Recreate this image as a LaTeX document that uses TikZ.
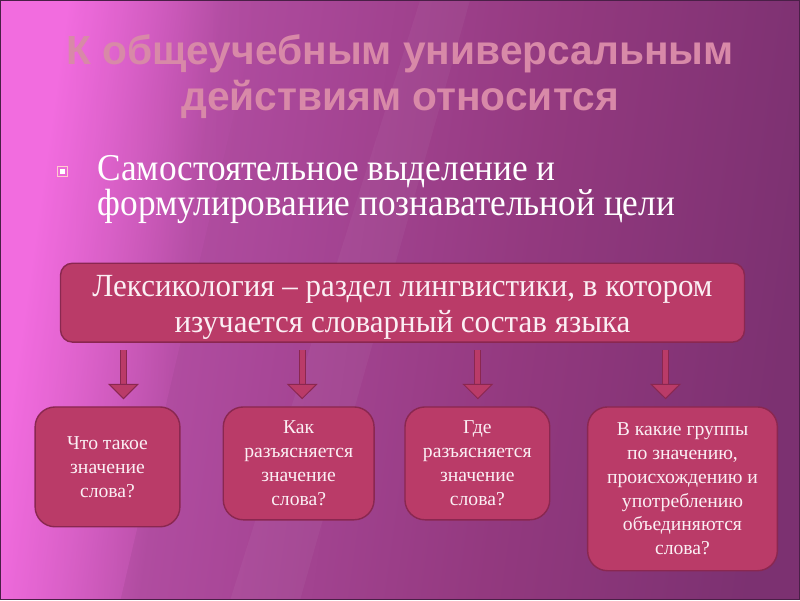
\documentclass[tikz,border=0pt]{standalone}
\usepackage{fontspec}
\setmainfont{Liberation Serif}
\setsansfont{Liberation Sans}
\newfontfamily\goalfont{Liberation Serif}[FakeStretch=0.93]
\newfontfamily\lexfont{Liberation Serif}[FakeStretch=0.96]
\usetikzlibrary{arrows.meta,fadings}

\definecolor{bgpink}{HTML}{F26CDF}
\definecolor{bgmid}{HTML}{B04CA0}
\definecolor{bgdeep}{HTML}{93397F}
\definecolor{bgdark}{HTML}{7C3171}
\definecolor{titlepink}{HTML}{D889A8}
\definecolor{boxfill}{HTML}{BA3B68}
\definecolor{boxedge}{HTML}{8A2750}
\definecolor{boxtext}{HTML}{FBEFF4}
\definecolor{frame}{HTML}{4A1F47}

\pgfdeclarehorizontalshading{slidebg}{100bp}{color(0bp)=(bgpink); color(26bp)=(bgpink); color(36bp)=(bgmid); color(58bp)=(bgdeep); color(75bp)=(bgdark); color(100bp)=(bgdark)}

\begin{document}
\begin{tikzpicture}[x=0.025cm,y=-0.025cm,
    title/.style={text=titlepink,align=center,font=\sffamily\bfseries\fontsize{29}{33}\selectfont},
    goaltext/.style={text=white,align=left,inner sep=0pt,font=\goalfont\fontsize{27}{25}\selectfont},
    lexbox/.style={draw=boxedge,line width=1pt,fill=boxfill,rounded corners=0.3cm,text=boxtext,inner ysep=0pt,
        align=center,font=\lexfont\fontsize{23}{25.5}\selectfont,minimum width=17.125cm,minimum height=1.975cm},
    qbox/.style={draw=boxedge,line width=1pt,fill=boxfill,rounded corners=0.5cm,text=boxtext,
        align=center,font=\fontsize{14}{17}\selectfont},
    blockarrow/.style={draw=boxedge,line width=0.7pt,double=boxfill,double distance=3.4pt,
        -{Triangle[length=11pt,width=22pt,fill=boxfill]},shorten >=0.175cm}]

    % slide background
    \shade[shading=slidebg,shading angle=-8] (0,0) rectangle (800,600);
    \fill[bgpink,opacity=0.35,path fading=east] (0,120) -- (90,0) -- (260,0) -- (120,600) -- (0,600) -- cycle;
    \fill[white,opacity=0.04] (230,600) -- (420,0) -- (470,0) -- (300,600) -- cycle;
    \draw[frame,line width=1pt] (0,0) rectangle (800,600);

    \node[title] (ttl) at (400,76) {К общеучебным универсальным\\действиям относится};

    \node[draw=pink!80!white,line width=0.9pt,minimum size=0.26cm,inner sep=0pt] (bul) at (62,171) {};
    \node[fill=white,minimum size=0.13cm,inner sep=0pt] (buldot) at (bul) {};
    \node[goaltext,anchor=north west] (goal) at (97,155) {Самостоятельное выделение и\\формулирование познавательной цели};

    \node[lexbox] (lex) at (402.5,302.5) {\rule{0pt}{22pt}Лексикология – раздел лингвистики, в котором\\изучается словарный состав языка};

    \node[qbox,minimum width=3.625cm,minimum height=3cm] (q1) at (107,467) {Что такое\\значение\\слова?};
    \node[qbox,minimum width=3.775cm,minimum height=2.825cm] (q2) at (298.5,463.5) {Как\\разъясняется\\значение\\слова?};
    \node[qbox,minimum width=3.625cm,minimum height=2.825cm] (q3) at (477.5,463.5) {Где\\разъясняется\\значение\\слова?};
    \node[qbox,minimum width=4.75cm,minimum height=4.1cm] (q4) at (683,489) {В какие группы\\по значению,\\происхождению и\\употреблению\\объединяются\\слова?};

    \coordinate (a1) at (123,350);
    \coordinate (a2) at (302,350);
    \coordinate (a3) at (478,350);
    \coordinate (a4) at (666,350);

    \foreach \i in {1,...,4}
        \draw[blockarrow] (a\i) -- (a\i |- q\i.north);

\end{tikzpicture}
\end{document}
